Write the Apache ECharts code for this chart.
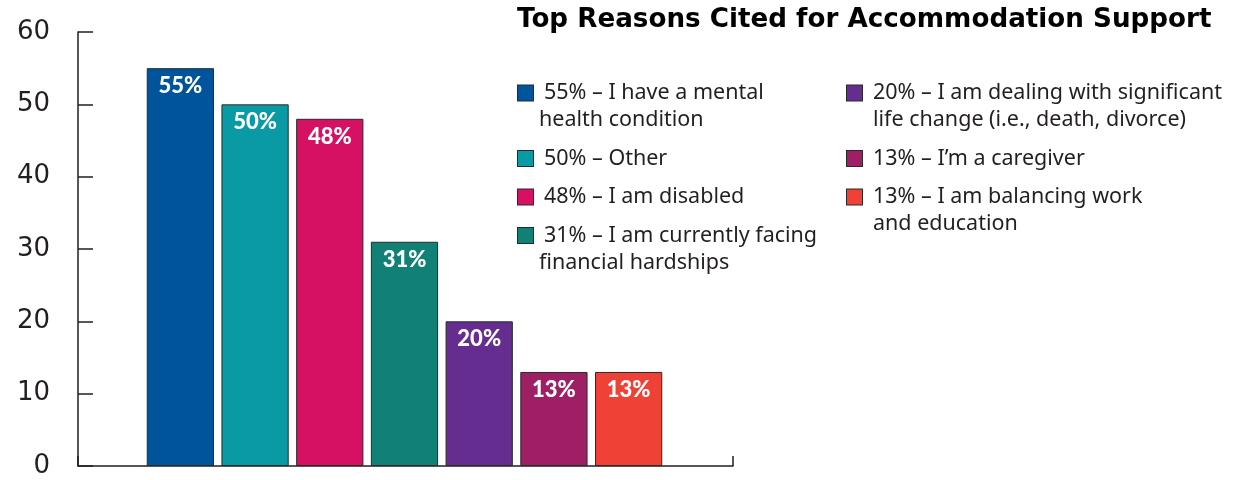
<!DOCTYPE html>
<html>
<head>
<meta charset="utf-8">
<script src="https://cdn.jsdelivr.net/npm/echarts@6/dist/echarts.min.js"></script>
<style>html,body{margin:0;padding:0;background:#fff;}#c{width:1247px;height:480px;}</style>
</head>
<body>
<div id="c"></div>
<script>
const titleText = 'Top Reasons Cited for Accommodation Support';
const categories = [
  'I have a mental health condition',
  'Other',
  'I am disabled',
  'I am currently facing financial hardships',
  'I am dealing with significant life change (i.e., death, divorce)',
  'I’m a caregiver',
  'I am balancing work and education'
];
const values = [55, 50, 48, 31, 20, 13, 13];
const legendLines = [
  ['I have a mental', 'health condition'],
  ['Other'],
  ['I am disabled'],
  ['I am currently facing', 'financial hardships'],
  ['I am dealing with significant', 'life change (i.e., death, divorce)'],
  ['I’m a caregiver'],
  ['I am balancing work', 'and education']
];
const colors = ['#00549C', '#0A9AA6', '#D61163', '#118176', '#652D8F', '#9E1F63', '#EF4136'];
const yMin = 0, yMax = 60, yInterval = 10;

const ink = '#231f20';
const legendFont = 'Noto Sans';

const rich = {
  t: { fontSize: 21.5, fontFamily: legendFont, color: ink, lineHeight: 27 },
  gap: { width: 11, lineHeight: 27 },
  ind1: { width: 21, lineHeight: 27 },
  ind2: { width: 26, lineHeight: 27 }
};
colors.forEach((c, i) => {
  rich['sq' + i] = { width: 15, height: 15, backgroundColor: c, borderColor: '#2a2a2a', borderWidth: 1 };
});

function legendFormatter(indName) {
  return function (name) {
    const i = categories.indexOf(name);
    const lines = legendLines[i];
    let s = '{sq' + i + '|}{gap|}{t|' + values[i] + '% – ' + lines[0] + '}';
    for (let k = 1; k < lines.length; k++) {
      s += '\n{' + indName + '|}{t|' + lines[k] + '}';
    }
    return s;
  };
}

const series = categories.map((name, i) => ({
  type: 'bar',
  name: name,
  xAxisIndex: 1,
  yAxisIndex: 1,
  stack: 'all',
  barCategoryGap: '10%',
  data: values.map((v, j) => (j === i ? v : '-')),
  itemStyle: { color: colors[i], borderColor: '#2a2a2a', borderWidth: 1 },
  label: {
    show: true,
    position: 'insideTop',
    distance: 7,
    formatter: '{c}%',
    color: '#fff',
    fontWeight: 900,
    fontSize: 22,
    fontFamily: 'Lato'
  }
}));

const chart = echarts.init(document.getElementById('c'));
chart.setOption({
  animation: false,
  backgroundColor: '#fff',
  title: {
    text: titleText,
    left: 512,
    top: 2,
    textStyle: { fontSize: 26.2, fontWeight: 900, fontFamily: 'DejaVu Sans', color: '#000' }
  },
  legend: [
    {
      data: categories.slice(0, 4),
      orient: 'vertical',
      left: 512,
      top: 82,
      padding: 0,
      itemGap: 16.5,
      itemWidth: 0,
      itemHeight: 0,
      icon: 'rect',
      selectedMode: false,
      formatter: legendFormatter('ind1'),
      textStyle: { rich: rich }
    },
    {
      data: categories.slice(4),
      orient: 'vertical',
      left: 841,
      top: 82,
      padding: 0,
      itemGap: 16.5,
      itemWidth: 0,
      itemHeight: 0,
      icon: 'rect',
      selectedMode: false,
      formatter: legendFormatter('ind2'),
      textStyle: { rich: rich }
    }
  ],
  grid: [
    { left: 78, right: 514, top: 32, bottom: 14 },
    { left: 143, width: 523, top: 32, bottom: 14 }
  ],
  xAxis: [
    {
      gridIndex: 0, type: 'value', min: 0, max: 1, interval: 1,
      axisLine: { show: true, lineStyle: { color: ink, width: 1.5 } },
      axisTick: { show: true, inside: true, length: 10, lineStyle: { color: ink, width: 1.5 } },
      axisLabel: { show: false },
      splitLine: { show: false }
    },
    {
      gridIndex: 1, type: 'category', data: categories, show: false
    }
  ],
  yAxis: [
    {
      gridIndex: 0, type: 'value', min: yMin, max: yMax, interval: yInterval,
      axisLine: { show: true, lineStyle: { color: ink, width: 1.5 } },
      axisTick: { show: true, inside: true, length: 15, lineStyle: { color: ink, width: 1.5 } },
      axisLabel: { fontSize: 26, color: ink, margin: 28, fontFamily: 'DejaVu Sans' },
      splitLine: { show: false }
    },
    {
      gridIndex: 1, type: 'value', min: yMin, max: yMax, interval: yInterval, show: false
    }
  ],
  series: series
});
</script>
</body>
</html>
